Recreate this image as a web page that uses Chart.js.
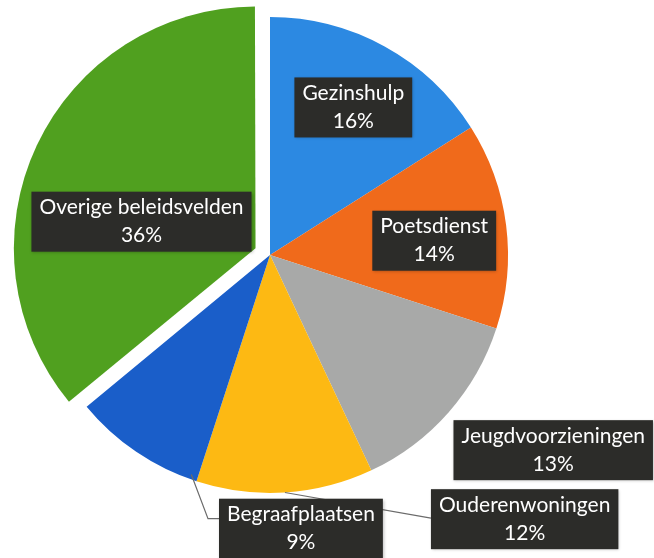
<!DOCTYPE html>
<html>
<head>
<meta charset="utf-8">
<script src="https://cdn.jsdelivr.net/npm/chart.js@4/dist/chart.umd.min.js"></script>
<style>
  html, body { margin: 0; padding: 0; background: #fff; }
  #wrap { width: 654px; height: 558px; }
</style>
</head>
<body>
<div id="wrap"><canvas id="chart"></canvas></div>
<script>
const categories = ['Gezinshulp', 'Poetsdienst', 'Jeugdvoorzieningen', 'Ouderenwoningen', 'Begraafplaatsen', 'Overige beleidsvelden'];
const shares = [16, 14, 13, 12, 9, 36];
const sliceColors = ['#2c89e2', '#f06a1b', '#a8a9a8', '#fdb913', '#1a5ec9', '#50a01f'];

// label box centres, in units of the pie radius from the pie centre
const labelPos = [[0.35, -0.62], [0.69, -0.06], [1.19, 0.82], [1.07, 1.11], [0.13, 1.15], [-0.54, -0.14]];

const labelPlugin = {
  id: 'boxLabels',
  afterDatasetsDraw(chart) {
    const ctx = chart.ctx;
    const arcs = chart.getDatasetMeta(0).data;
    const cx = arcs[0].x, cy = arcs[0].y, R = arcs[0].outerRadius;
    ctx.save();
    ctx.font = '21px Lato';
    const boxes = categories.map((c, i) => {
      const lines = [c, shares[i] + '%'];
      const w = Math.max(...lines.map(t => ctx.measureText(t).width)) + 16;
      const h = 60;
      const x = cx + labelPos[i][0] * R, y = cy + labelPos[i][1] * R;
      return { lines, x, y, w, h };
    });

    // leader lines (Ouderenwoningen, Begraafplaatsen)
    ctx.strokeStyle = '#6b6b6b';
    ctx.lineWidth = 1.2;
    const arcPoint = (a, f) => [cx + Math.cos(a) * R * f, cy + Math.sin(a) * R * f];
    {
      const a = arcs[3];
      const p = arcPoint((a.startAngle + a.endAngle) / 2, 1);
      const b = boxes[3];
      ctx.beginPath();
      ctx.moveTo(b.x - b.w / 2, b.y - 1);
      ctx.lineTo(p[0], p[1]);
      ctx.stroke();
    }
    {
      const a = arcs[4];
      const p = arcPoint(a.startAngle + 0.03, 0.98);
      const b = boxes[4];
      ctx.beginPath();
      ctx.moveTo(b.x - b.w / 2, b.y - 10);
      ctx.lineTo(b.x - b.w / 2 - 11, b.y - 10);
      ctx.lineTo(p[0], p[1]);
      ctx.stroke();
    }

    boxes.forEach(b => {
      ctx.shadowColor = 'rgba(0,0,0,0.25)';
      ctx.shadowBlur = 3;
      ctx.shadowOffsetX = 1;
      ctx.shadowOffsetY = 1;
      ctx.fillStyle = '#2c2c29';
      ctx.fillRect(b.x - b.w / 2, b.y - b.h / 2, b.w, b.h);
      ctx.shadowColor = 'transparent';
      ctx.fillStyle = '#ffffff';
      ctx.textAlign = 'center';
      ctx.textBaseline = 'middle';
      ctx.fillText(b.lines[0], b.x, b.y - 14);
      ctx.fillText(b.lines[1], b.x, b.y + 14);
    });
    ctx.restore();
  }
};

new Chart(document.getElementById('chart'), {
  type: 'pie',
  data: {
    labels: categories,
    datasets: [{
      data: shares,
      backgroundColor: sliceColors,
      borderWidth: 0,
      // Chart.js v4 moves an arc by offset / 4
      offset: [0, 0, 0, 0, 0, 64]
    }]
  },
  options: {
    responsive: true,
    maintainAspectRatio: false,
    animation: false,
    radius: 238,
    layout: { padding: { left: 0, right: 114, top: 0, bottom: 48 } },
    plugins: {
      legend: { display: false },
      tooltip: { enabled: false }
    }
  },
  plugins: [labelPlugin]
});
</script>
</body>
</html>
